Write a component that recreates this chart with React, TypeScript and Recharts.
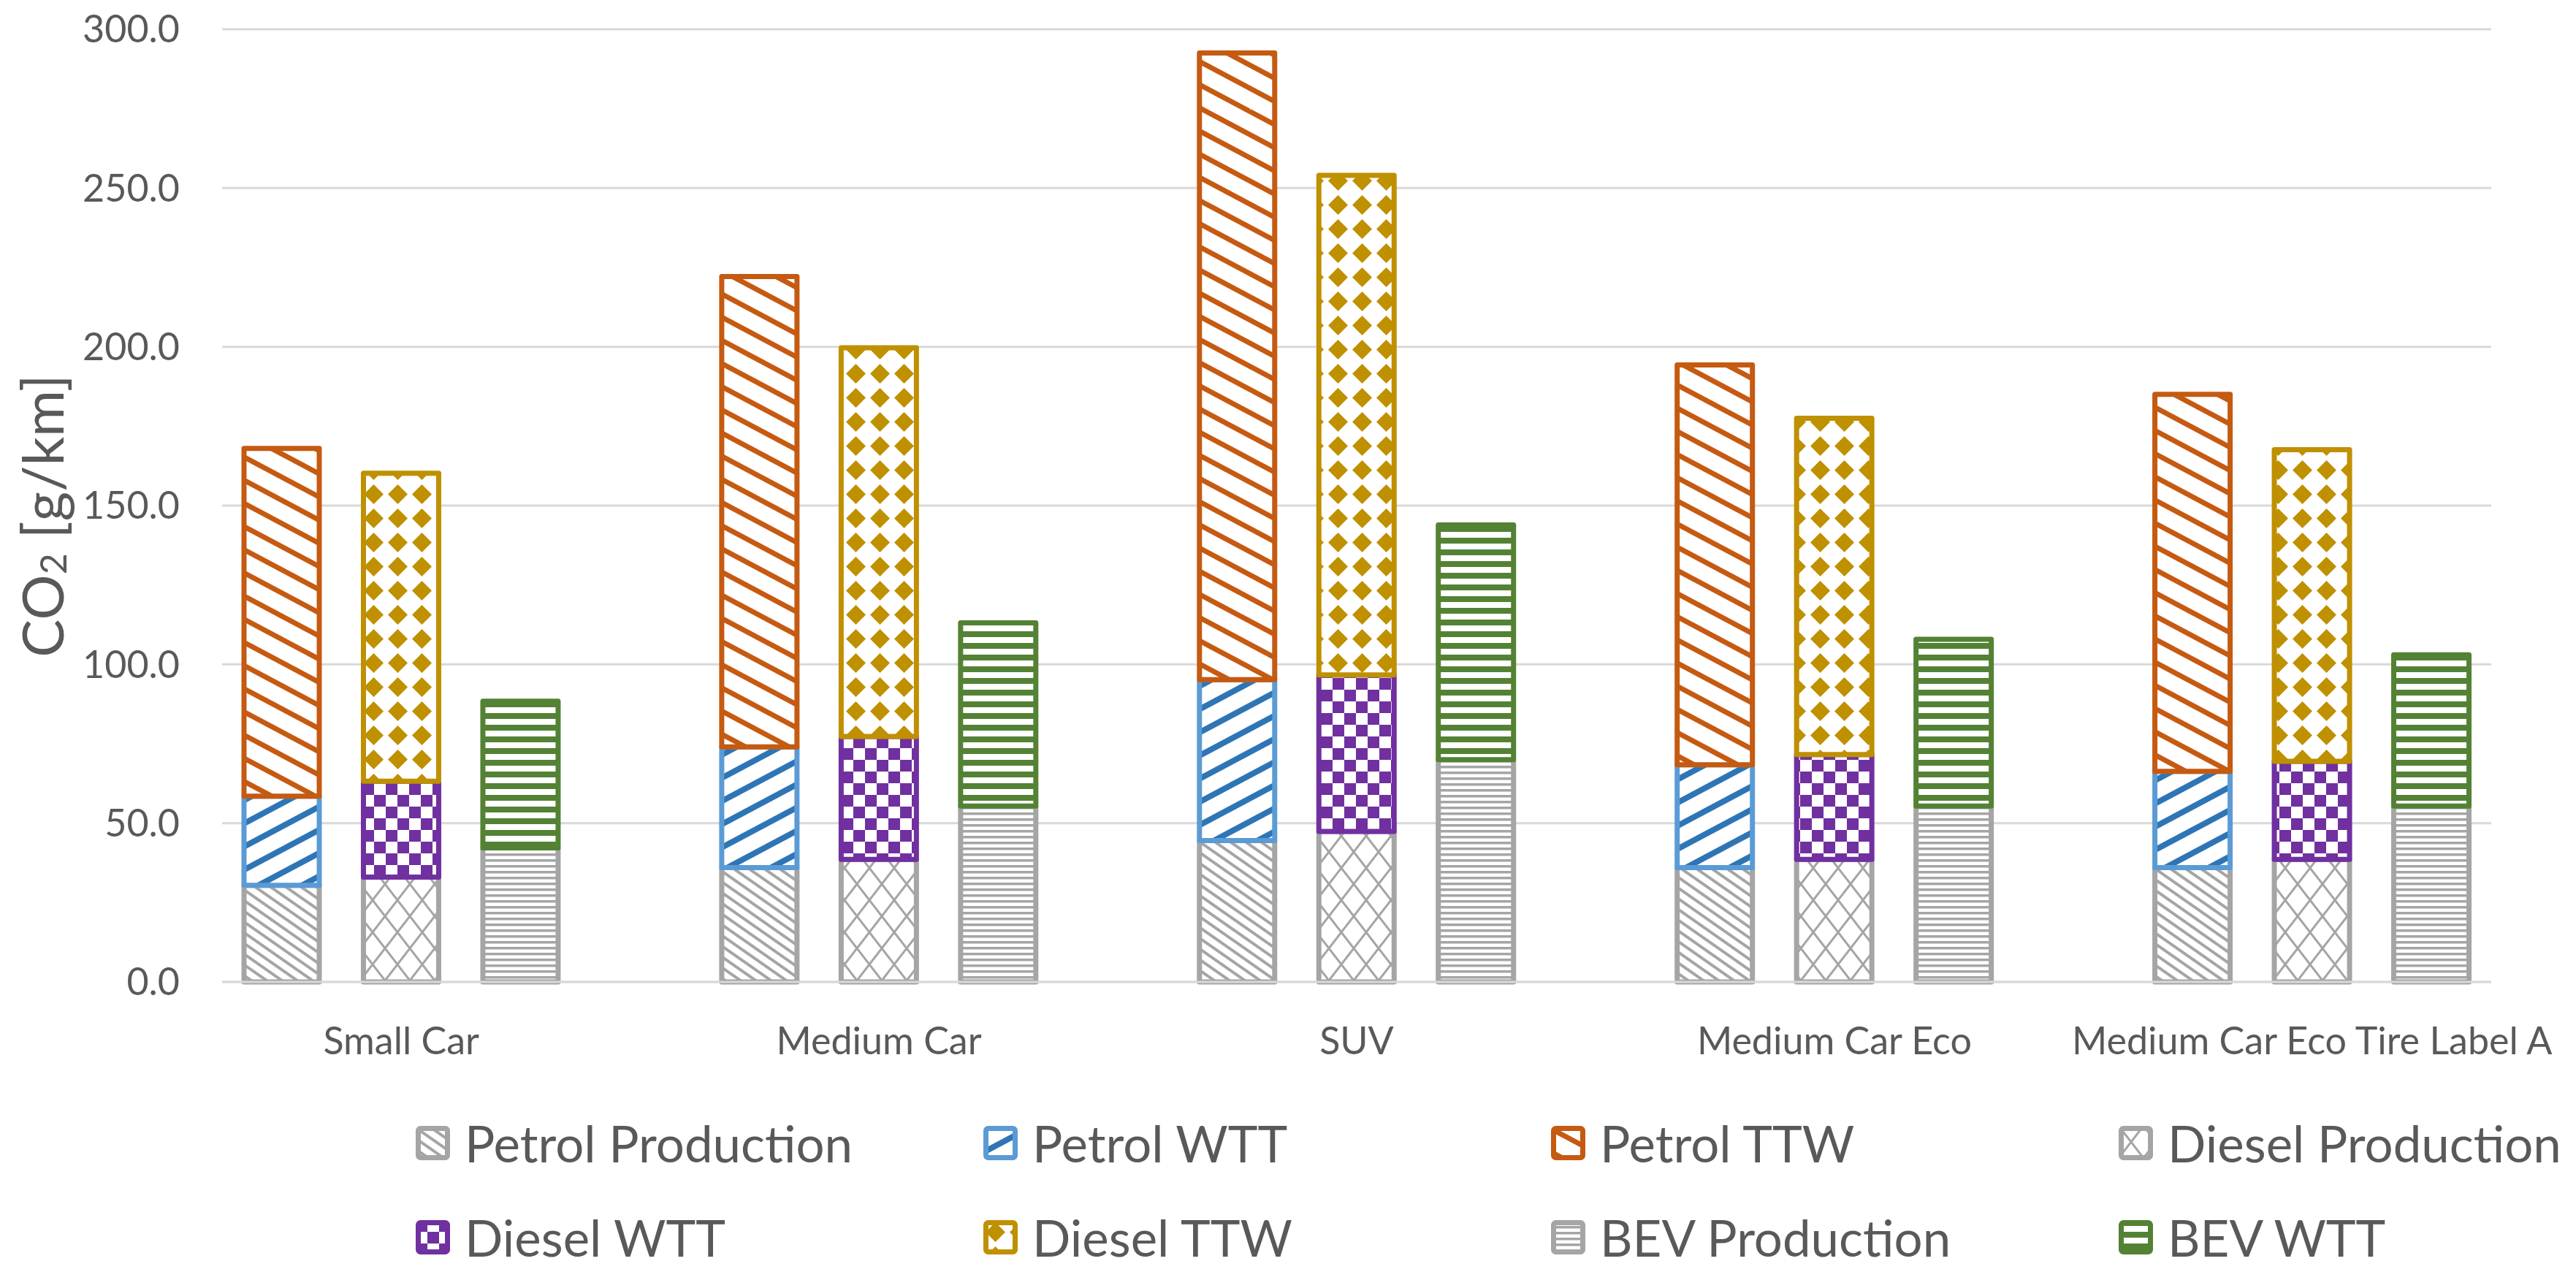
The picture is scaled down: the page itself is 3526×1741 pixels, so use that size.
import { Bar, BarChart, CartesianGrid, Legend, XAxis, YAxis } from "recharts";

const groups = ["Small Car", "Medium Car", "SUV", "Medium Car Eco", "Medium Car Eco Tire Label A"];

const petrolProduction = [30.4, 36.0, 44.5, 36.0, 36.0];
const petrolWtt = [28.1, 38.0, 50.7, 32.4, 30.3];
const petrolTtw = [109.5, 148.1, 197.3, 125.9, 118.7];
const dieselProduction = [33.0, 38.6, 47.4, 38.6, 38.6];
const dieselWtt = [30.2, 38.7, 49.3, 33.0, 30.9];
const dieselTtw = [97.0, 122.4, 157.3, 105.9, 98.1];
const bevProduction = [42.2, 55.4, 70.0, 55.4, 55.4];
const bevWtt = [46.2, 57.7, 73.9, 52.5, 47.6];

const yTicks = [0, 50, 100, 150, 200, 250, 300];
const kinds = ["petrol", "diesel", "bev"];

const series = [
  { key: "petrolProduction", name: "Petrol Production", kind: "petrol", values: petrolProduction, pattern: "pat-petrol-prod", stroke: "#a5a5a5" },
  { key: "petrolWtt", name: "Petrol WTT", kind: "petrol", values: petrolWtt, pattern: "pat-petrol-wtt", stroke: "#5b9bd5" },
  { key: "petrolTtw", name: "Petrol TTW", kind: "petrol", values: petrolTtw, pattern: "pat-petrol-ttw", stroke: "#c55a11" },
  { key: "dieselProduction", name: "Diesel Production", kind: "diesel", values: dieselProduction, pattern: "pat-diesel-prod", stroke: "#a5a5a5" },
  { key: "dieselWtt", name: "Diesel WTT", kind: "diesel", values: dieselWtt, pattern: "pat-diesel-wtt", stroke: "#7030a0" },
  { key: "dieselTtw", name: "Diesel TTW", kind: "diesel", values: dieselTtw, pattern: "pat-diesel-ttw", stroke: "#bf9000" },
  { key: "bevProduction", name: "BEV Production", kind: "bev", values: bevProduction, pattern: "pat-bev-prod", stroke: "#a5a5a5" },
  { key: "bevWtt", name: "BEV WTT", kind: "bev", values: bevWtt, pattern: "pat-bev-wtt", stroke: "#548235" },
];

// one slot per column, plus an empty slot between vehicle groups
const rows: Record<string, string | number>[] = [];
groups.forEach((group, i) => {
  kinds.forEach((kind) => {
    const row: Record<string, string | number> = { slot: `${group}|${kind}` };
    series.filter((s) => s.kind === kind).forEach((s) => (row[s.key] = s.values[i]));
    rows.push(row);
  });
  if (i < groups.length - 1) rows.push({ slot: `${group}|gap` });
});

const TEXT = "#595959";
const GRID = "#d9d9d9";

function Patterns() {
  return (
    <defs>
      <pattern id="pat-petrol-prod" patternUnits="userSpaceOnUse" width={12} height={12} patternTransform="rotate(35)">
        <rect width={12} height={12} fill="#fff" />
        <rect width={12} height={4} fill="#a5a5a5" />
      </pattern>
      <pattern id="pat-petrol-wtt" patternUnits="userSpaceOnUse" width={28} height={28} patternTransform="rotate(-28)">
        <rect width={28} height={28} fill="#fff" />
        <rect width={28} height={8} fill="#2e75b6" />
      </pattern>
      <pattern id="pat-petrol-ttw" patternUnits="userSpaceOnUse" width={28} height={28} patternTransform="rotate(28)">
        <rect width={28} height={28} fill="#fff" />
        <rect width={28} height={7} fill="#c55a11" />
      </pattern>
      <pattern id="pat-diesel-prod" patternUnits="userSpaceOnUse" width={34} height={44}>
        <rect width={34} height={44} fill="#fff" />
        <path d="M0 0 L34 44 M34 0 L0 44" stroke="#a5a5a5" strokeWidth={3} />
      </pattern>
      <pattern id="pat-diesel-wtt" patternUnits="userSpaceOnUse" width={32} height={32}>
        <rect width={32} height={32} fill="#fff" />
        <rect width={16} height={16} fill="#7030a0" />
        <rect x={16} y={16} width={16} height={16} fill="#7030a0" />
      </pattern>
      <pattern id="pat-diesel-ttw" patternUnits="userSpaceOnUse" width={33} height={33}>
        <rect width={33} height={33} fill="#fff" />
        <polygon points="16.5,3 30,16.5 16.5,30 3,16.5" fill="#bf9000" />
      </pattern>
      <pattern id="pat-bev-prod" patternUnits="userSpaceOnUse" width={8} height={8}>
        <rect width={8} height={8} fill="#fff" />
        <rect width={8} height={3.5} fill="#a5a5a5" />
      </pattern>
      <pattern id="pat-bev-wtt" patternUnits="userSpaceOnUse" width={16} height={16}>
        <rect width={16} height={16} fill="#fff" />
        <rect width={16} height={8} fill="#548235" />
      </pattern>
    </defs>
  );
}

function LegendGrid({ payload }: any) {
  const items = payload ?? [];
  // keep the series order rather than the legend's default sorting
  const ordered = series
    .map((s) => ({ s, item: items.find((p: any) => p.dataKey === s.key) }))
    .filter((x) => x.item);
  return (
    <div style={{ display: "grid", gridTemplateColumns: "repeat(4, 777px)", paddingLeft: 569 }}>
      {ordered.map(({ s, item }) => (
        <div key={s.key} style={{ display: "flex", alignItems: "center", height: 129 }}>
          <svg width={47} height={47} style={{ flex: "none" }}>
            <rect x={3.5} y={3.5} width={40} height={40} rx={3} fill={`url(#${s.pattern})`} stroke={s.stroke} strokeWidth={7} />
          </svg>
          <span style={{ marginLeft: 20, fontSize: 69, color: TEXT, whiteSpace: "nowrap" }}>{item.value}</span>
        </div>
      ))}
    </div>
  );
}

function YTitle() {
  return (
    <text x={57} y={706} transform="rotate(-90 57 706)" textAnchor="middle" dominantBaseline="central" fill={TEXT} fontSize={78}>
      CO
      <tspan fontSize={50} dy={15}>2</tspan>
      <tspan dy={-15}> [g/km]</tspan>
    </text>
  );
}

export default function App() {
  return (
    <div style={{ position: "absolute", left: 0, top: 0, width: 3526, height: 1741, background: "#fff", fontFamily: "Lato, sans-serif" }}>
      <BarChart width={3526} height={1741} data={rows} margin={{ top: 40, right: 116, bottom: 250, left: 0 }} barSize={103}>
        <Patterns />
        <CartesianGrid vertical={false} stroke={GRID} strokeWidth={3} />
        <XAxis
          dataKey="slot"
          interval={0}
          tickLine={false}
          tickSize={0}
          tickMargin={62}
          height={147}
          axisLine={{ stroke: GRID, strokeWidth: 3 }}
          tick={{ fill: TEXT, fontSize: 52 }}
          tickFormatter={(v: string) => (v.endsWith("|diesel") ? v.split("|")[0] : "")}
        />
        <YAxis
          width={304}
          domain={[0, 300]}
          ticks={yTicks}
          interval={0}
          axisLine={false}
          tickLine={false}
          tickSize={0}
          tickMargin={58}
          tick={{ fill: TEXT, fontSize: 52 }}
          tickFormatter={(v: number) => v.toFixed(1)}
          label={{ content: () => <YTitle /> }}
        />
        <Legend
          layout="horizontal"
          verticalAlign="middle"
          align="center"
          content={(props: any) => <LegendGrid payload={props.payload} />}
          wrapperStyle={{ top: 1500, left: 0, width: 3526 }}
        />
        {series.map((s) => (
          <Bar
            key={s.key}
            dataKey={s.key}
            name={s.name}
            stackId="all"
            fill={`url(#${s.pattern})`}
            stroke={s.stroke}
            strokeWidth={7}
            strokeLinejoin="round"
            isAnimationActive={false}
          />
        ))}
      </BarChart>
    </div>
  );
}
